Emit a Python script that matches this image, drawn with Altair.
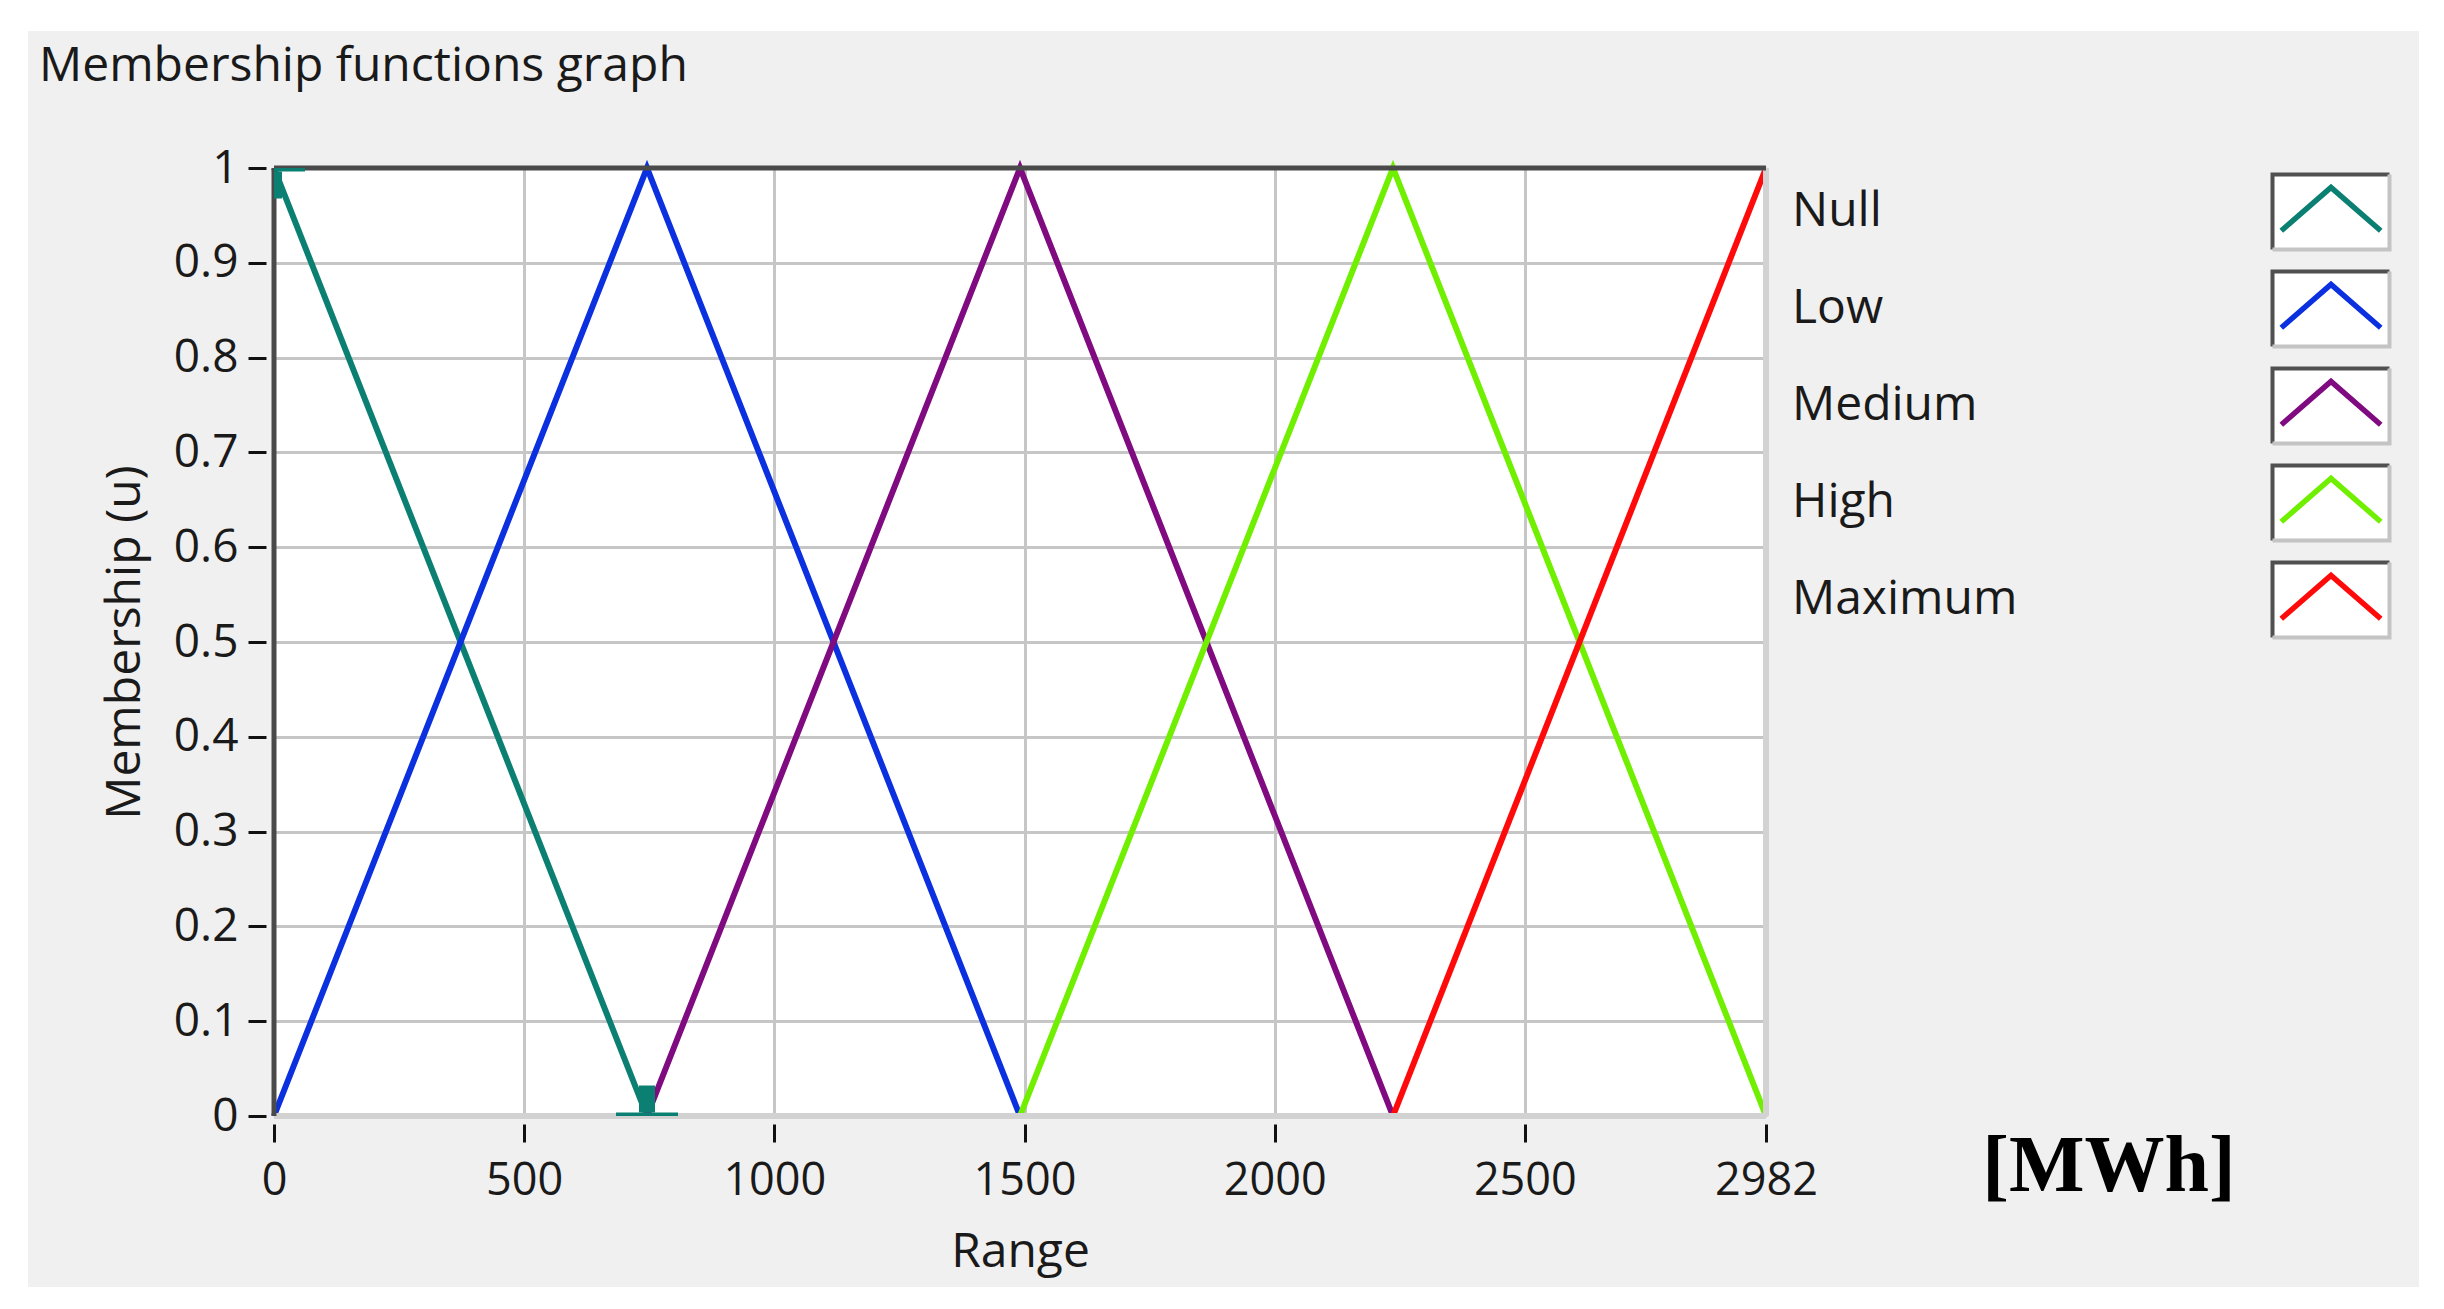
import altair as alt
import pandas as pd

# ---------------- data ----------------
series_names = ["Null", "Low", "Medium", "High", "Maximum"]
series_colors = ["#0b8072", "#0b30e0", "#800a80", "#70f000", "#ff0a0a"]

null_x = [0, 745.5]
null_y = [1, 0]
low_x = [0, 745.5, 1491]
low_y = [0, 1, 0]
medium_x = [745.5, 1491, 2236.5]
medium_y = [0, 1, 0]
high_x = [1491, 2236.5, 2982]
high_y = [0, 1, 0]
maximum_x = [2236.5, 2982]
maximum_y = [0, 1]

x_ticks = [0, 500, 1000, 1500, 2000, 2500, 2982]
y_ticks = [0, 0.1, 0.2, 0.3, 0.4, 0.5, 0.6, 0.7, 0.8, 0.9, 1]

handle_top_x = [0]
handle_top_y = [1]
handle_bottom_x = [745.5]
handle_bottom_y = [0]

title_text = "Membership functions graph"
x_title = "Range"
y_title = "Membership (u)"
unit_label = "[MWh]"

# ---------------- tables ----------------
rows = []
for name, xs, ys in zip(series_names,
                        [null_x, low_x, medium_x, high_x, maximum_x],
                        [null_y, low_y, medium_y, high_y, maximum_y]):
    for i, (xv, yv) in enumerate(zip(xs, ys)):
        rows.append({"series": name, "x": xv, "y": yv, "idx": i})
lines_df = pd.DataFrame(rows)
legend_df = pd.DataFrame({"series": series_names})

W, H = 1492, 948
FONT = "Open Sans"
TXT = "#1a1a1a"

x_scale = alt.Scale(domain=[0, 2982], nice=False, zero=False)
y_scale = alt.Scale(domain=[0, 1], nice=False, zero=False)
color_scale = alt.Scale(domain=series_names, range=series_colors)

x_axis = alt.Axis(values=x_ticks, title=x_title, format="d", grid=True,
                  gridColor="#c6c6c6", gridWidth=3, domain=False,
                  tickColor="#111111", tickWidth=3, tickSize=18, offset=8,
                  labelFont=FONT, labelFontSize=45, labelColor=TXT,
                  labelPadding=16, labelFlush=False, labelOverlap=False,
                  titleFont=FONT, titleFontSize=48, titleFontWeight="normal",
                  titleColor=TXT, titlePadding=25)
y_axis = alt.Axis(values=y_ticks, title=y_title, format=".1~f", grid=True,
                  gridColor="#c6c6c6", gridWidth=3, domain=False,
                  tickColor="#111111", tickWidth=3, tickSize=18, offset=8,
                  labelFont=FONT, labelFontSize=46, labelColor=TXT,
                  labelPadding=10, labelOverlap=False,
                  titleFont=FONT, titleFontSize=48, titleFontWeight="normal",
                  titleColor=TXT, titlePadding=24)

one = alt.Data(values=[{"k": 1}])

# white outer margin strips around the grey panel
strip_left = alt.Chart(one).mark_rect(color="white").encode(
    x=alt.value(-266), x2=alt.value(-246), y=alt.value(-160), y2=alt.value(1119))
strip_top = alt.Chart(one).mark_rect(color="white").encode(
    x=alt.value(-266), x2=alt.value(2145), y=alt.value(-160), y2=alt.value(-137))

lines = alt.Chart(lines_df).mark_line(strokeWidth=6).encode(
    x=alt.X("x:Q", scale=x_scale, axis=x_axis),
    y=alt.Y("y:Q", scale=y_scale, axis=y_axis),
    color=alt.Color("series:N", scale=color_scale, legend=None),
    order=alt.Order("idx:Q"),
)

# plot frame
frame_dark_top = alt.Chart(one).mark_rule(color="#4a4a4a", strokeWidth=5).encode(
    x=alt.datum(0, scale=x_scale), x2=alt.datum(2982), y=alt.datum(1, scale=y_scale))
frame_dark_left = alt.Chart(one).mark_rule(color="#4a4a4a", strokeWidth=5).encode(
    x=alt.datum(0), y=alt.datum(0), y2=alt.datum(1))
frame_light_bottom = alt.Chart(one).mark_rule(color="#d2d2d2", strokeWidth=6).encode(
    x=alt.datum(0), x2=alt.datum(2982), y=alt.datum(0))
frame_light_right = alt.Chart(one).mark_rule(color="#d2d2d2", strokeWidth=6).encode(
    x=alt.datum(2982), y=alt.datum(0), y2=alt.datum(1))

# cursor handles on the Null function
htop = pd.DataFrame({"x": handle_top_x, "y": handle_top_y})
hbot = pd.DataFrame({"x": handle_bottom_x, "y": handle_bottom_y})
teal = series_colors[0]
h1 = alt.Chart(htop).mark_tick(orient="horizontal", size=62, thickness=7, color=teal,
                               opacity=1, clip=True).encode(x="x:Q", y="y:Q")
h2 = alt.Chart(htop).mark_tick(orient="vertical", size=27, thickness=16, color=teal,
                               opacity=1, clip=True, yOffset=17).encode(x="x:Q", y="y:Q")
h3 = alt.Chart(hbot).mark_tick(orient="horizontal", size=62, thickness=7, color=teal,
                               opacity=1, clip=True).encode(x="x:Q", y="y:Q")
h4 = alt.Chart(hbot).mark_tick(orient="vertical", size=27, thickness=16, color=teal,
                               opacity=1, clip=True, yOffset=-17).encode(x="x:Q", y="y:Q")

unit = alt.Chart(pd.DataFrame({"label": [unit_label]})).mark_text(
    font="Liberation Serif", fontWeight="bold", fontSize=80, color="#000000",
    align="center", baseline="middle").encode(
    x=alt.value(1835), y=alt.value(999), text="label:N")

main = alt.layer(strip_left, strip_top, lines,
                 frame_light_bottom, frame_light_right, frame_dark_top, frame_dark_left,
                 h1, h2, h3, h4, unit)

# ---------------- legend (labels left, framed swatches right) ----------------
leg_y = alt.Y("series:N", axis=None,
              scale=alt.Scale(type="point", domain=series_names, range=[44, 432], padding=0))
SW = 13689  # swatch symbol area (117 px wide)
box_fill = "M-1,-0.641L1,-0.641L1,0.641L-1,0.641Z"
box_dark = "M-1,0.641L-1,-0.641L1,-0.641"
box_light = "M1,-0.641L1,0.641L-1,0.641"
caret = "M-0.85,0.32L0,-0.42L0.85,0.32"
SX = 2057

leg_fill = alt.Chart(legend_df).mark_point(shape=box_fill, filled=True, fill="white",
                                           opacity=1, size=SW, strokeWidth=0).encode(
    x=alt.value(SX), y=leg_y)
leg_dark = alt.Chart(legend_df).mark_point(shape=box_dark, filled=False, stroke="#505050",
                                           opacity=1, size=SW, strokeWidth=4).encode(
    x=alt.value(SX), y=leg_y)
leg_light = alt.Chart(legend_df).mark_point(shape=box_light, filled=False, stroke="#c4c4c4",
                                            opacity=1, size=SW, strokeWidth=4).encode(
    x=alt.value(SX), y=leg_y)
leg_caret = alt.Chart(legend_df).mark_point(shape=caret, filled=False, opacity=1,
                                            size=SW, strokeWidth=5.5).encode(
    x=alt.value(SX), y=leg_y,
    color=alt.Color("series:N", scale=color_scale, legend=None))
leg_text = alt.Chart(legend_df).mark_text(font=FONT, fontSize=48, color=TXT,
                                          align="left", baseline="middle").encode(
    x=alt.value(1518), y=leg_y, text="series:N")

legend_layer = alt.layer(leg_fill, leg_dark, leg_light, leg_caret, leg_text)

chart = alt.layer(main, legend_layer).resolve_scale(y="independent").properties(
    width=W, height=H,
    title=alt.TitleParams(title_text, anchor="start", frame="group", dx=-235,
                          offset=-121, font=FONT, fontSize=48, fontWeight="normal",
                          color=TXT, baseline="alphabetic"),
    background="#f0f0f0",
    padding={"left": 266, "top": 160, "right": 653, "bottom": 171},
    autosize=alt.AutoSizeParams(type="none"),
).configure_view(fill="white", strokeWidth=0)

chart.save("out.html", embed_options={"renderer": "svg", "actions": False})
